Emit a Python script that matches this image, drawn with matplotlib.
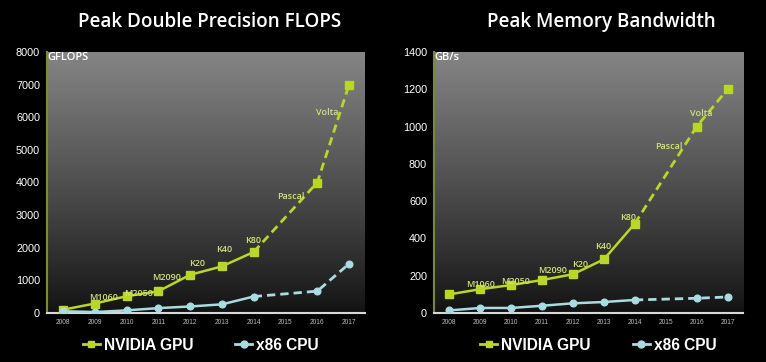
import numpy as np
import matplotlib
matplotlib.use("Agg")
import matplotlib.pyplot as plt
from matplotlib import font_manager

names = {f.name for f in font_manager.fontManager.ttflist}
narrow = "Liberation Sans Narrow" if "Liberation Sans Narrow" in names else "Liberation Sans"

years = [2008, 2009, 2010, 2011, 2012, 2013, 2014, 2016, 2017]
gpu_names = ["", "M1060", "M2050", "M2090", "K20", "K40", "K80", "Pascal", "Volta"]

gpu_flops = [100, 290, 515, 665, 1170, 1430, 1870, 4000, 7000]
cpu_flops = [55, 30, 80, 150, 200, 265, 505, 670, 1510]

gpu_bw = [100, 128, 150, 177, 208, 288, 480, 1000, 1200]
cpu_bw = [14, 27, 27, 39, 52, 59, 70, 79, 86]

xtick_labels = [str(y) for y in range(2008, 2018)]

GPU = "#b9d823"
CPU = "#a9dcdf"
LABEL = "#d2e27a"

# label offsets (points) relative to each GPU marker
flops_off = [None, (6.5, 4), (8.6, 2.2), (5.8, 10), (5, 8), (1.8, 12.2), (-0.7, 8.6),
             (-19.4, -10.4), (-15.8, -20.4)]
bw_off = [None, (0, 3.6), (3.2, 2.2), (7.2, 6.5), (5, 7.2), (-0.7, 9.4), (-5, 4),
          (-20, -14), (-18.7, -17.3)]

plt.rcParams["font.family"] = ["Liberation Sans", "DejaVu Sans"]
fig = plt.figure(figsize=(7.66, 3.62), dpi=100, facecolor="black")

grad = np.linspace(0, 1, 256) ** 0.9
grad = (0.07 + 0.45 * grad)[:, None]


def panel(rect, gpu, cpu, ymax, ystep, unit, title, tx, offsets, lx):
    ax = fig.add_axes(rect)
    ax.set_facecolor("#111111")
    ax.imshow(np.dstack([grad] * 3), extent=[0, 1, 0, 1], transform=ax.transAxes,
              aspect="auto", origin="lower", zorder=0)
    n = 7  # solid part up to 2014
    for data, color, marker, ms in [(gpu, GPU, "s", 5.5), (cpu, CPU, "o", 4.8)]:
        ax.plot(years[:n], data[:n], color=color, lw=1.8, marker=marker, ms=ms, zorder=3)
        ax.plot(years[n - 1:], data[n - 1:], color=color, lw=2, ls=(0, (3, 1.8)),
                marker=marker, ms=ms, markevery=[1, 2], zorder=3)
    for x, y, name, off in zip(years, gpu, gpu_names, offsets):
        if name:
            ax.annotate(name, (x, y), xytext=off, textcoords="offset points",
                        ha="center", va="center", color=LABEL, fontsize=6.5,
                        family="Open Sans", weight="semibold", zorder=4)
    ax.set_xlim(2007.5, 2017.5)
    ax.set_ylim(0, ymax)
    ax.set_xticks(range(2008, 2018))
    ax.set_xticklabels(xtick_labels, fontsize=4.8, color="#bbbbbb", family=narrow)
    ax.set_yticks(np.arange(0, ymax + 1, ystep))
    ax.tick_params(axis="y", length=0, labelsize=7.8, labelcolor="white", pad=5)
    ax.tick_params(axis="x", length=0, pad=4)
    for s in ["top", "right"]:
        ax.spines[s].set_visible(False)
    ax.spines["left"].set_color("#7d8c1c")
    ax.spines["left"].set_linewidth(1.5)
    ax.spines["bottom"].set_color("#d8d8d8")
    ax.spines["bottom"].set_linewidth(1.5)
    ax.text(0, 1, unit, transform=ax.transAxes, ha="left", va="top", color="white",
            fontsize=8, family="Open Sans", weight="semibold", zorder=5)
    fig.text(tx, 0.94, title, ha="center", va="center", color="white",
             fontsize=13.6, family="Open Sans", weight="semibold")
    h1, = ax.plot([], [], color=GPU, lw=2, marker="s", ms=5)
    h2, = ax.plot([], [], color=CPU, lw=2, marker="o", ms=5)
    ax.legend([h1, h2], ["NVIDIA GPU", "x86 CPU"], loc="center",
              bbox_to_anchor=(lx, -0.123), ncol=2, frameon=False, labelcolor="white",
              prop={"family": narrow, "size": 11.2, "weight": "bold"},
              handlelength=1.1, handletextpad=0.25, columnspacing=2.7,
              borderpad=0, borderaxespad=0)
    return ax


panel([47 / 766, 49 / 362, 318 / 766, 261 / 362], gpu_flops, cpu_flops, 8000, 1000,
      "GFLOPS", "Peak Double Precision FLOPS", 210 / 766, flops_off, 0.484)
panel([434 / 766, 49 / 362, 309 / 766, 261 / 362], gpu_bw, cpu_bw, 1400, 200,
      "GB/s", "Peak Memory Bandwidth", 601 / 766, bw_off, 0.532)

fig.savefig("out.png", dpi=100, facecolor="black")
